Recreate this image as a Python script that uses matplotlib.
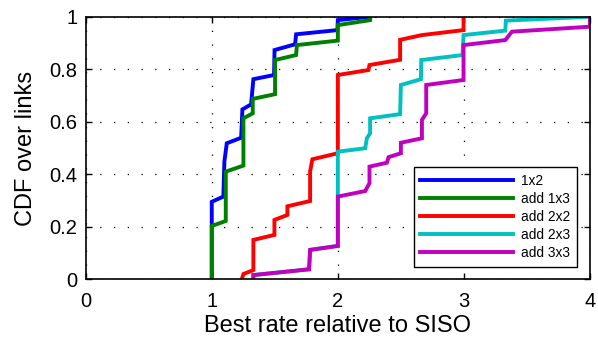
import matplotlib
matplotlib.use("Agg")
import matplotlib.pyplot as plt

plt.rcParams['font.family'] = ['Liberation Sans', 'DejaVu Sans']

# CDF curves (x = rate relative to SISO, y = CDF)
x_1x2 = [1.0, 1.0, 1.092, 1.10, 1.119, 1.233, 1.243, 1.312, 1.33, 1.494, 1.498,
         1.661, 1.669, 1.997, 2.0, 2.256]
y_1x2 = [0.0, 0.295, 0.315, 0.448, 0.518, 0.539, 0.647, 0.666, 0.762, 0.778, 0.873,
         0.895, 0.933, 0.949, 0.987, 1.0]

x_1x3 = [1.0, 1.0, 1.111, 1.111, 1.251, 1.251, 1.325, 1.325, 1.502, 1.502, 1.669,
         1.675, 2.0, 2.0, 2.256, 2.256]
y_1x3 = [0.0, 0.203, 0.222, 0.41, 0.433, 0.613, 0.632, 0.687, 0.705, 0.835, 0.854,
         0.892, 0.909, 0.968, 0.987, 1.0]

x_2x2 = [1.238, 1.251, 1.33, 1.33, 1.497, 1.497, 1.6, 1.6, 1.78, 1.78, 1.798, 2.0,
         2.0, 2.243, 2.251, 2.494, 2.494, 2.667, 2.997, 2.997]
y_2x2 = [0.0, 0.02, 0.035, 0.15, 0.169, 0.226, 0.245, 0.278, 0.298, 0.41, 0.457, 0.48,
         0.778, 0.797, 0.816, 0.836, 0.912, 0.93, 0.949, 1.0]

x_2x3 = [1.33, 1.33, 1.772, 1.78, 2.0, 2.0, 2.0, 2.217, 2.23, 2.256, 2.256, 2.494,
         2.5, 2.659, 2.662, 2.989, 2.997, 3.328, 3.333, 4.0]
y_2x3 = [0.0, 0.016, 0.038, 0.112, 0.127, 0.315, 0.486, 0.499, 0.537, 0.556, 0.613,
         0.629, 0.74, 0.762, 0.835, 0.854, 0.93, 0.947, 0.985, 1.0]

x_3x3 = [1.33, 1.33, 1.772, 1.78, 2.0, 2.0, 2.217, 2.251, 2.251, 2.389, 2.402, 2.5,
         2.5, 2.667, 2.667, 2.701, 2.701, 2.997, 2.997, 3.328, 3.381, 4.0, 4.0]
y_3x3 = [0.0, 0.016, 0.038, 0.112, 0.127, 0.315, 0.336, 0.366, 0.429, 0.444, 0.465,
         0.48, 0.52, 0.537, 0.607, 0.632, 0.74, 0.759, 0.892, 0.911, 0.943, 0.962, 1.0]

series = [
    (x_1x2, y_1x2, '1x2', '#0000ff'),
    (x_1x3, y_1x3, 'add 1x3', '#008000'),
    (x_2x2, y_2x2, 'add 2x2', '#ff0000'),
    (x_2x3, y_2x3, 'add 2x3', '#00c0c0'),
    (x_3x3, y_3x3, 'add 3x3', '#bf00bf'),
]

fig = plt.figure(figsize=(5.98, 3.41), dpi=100)
ax = fig.add_axes([0.1433, 0.181, 0.8433, 0.77])

for xs, ys, lab, col in series:
    ax.plot(xs, ys, color=col, lw=2.8, label=lab, solid_joinstyle='miter')

ax.set_xlim(0, 4)
ax.set_ylim(0, 1)
ax.set_xticks([0, 1, 2, 3, 4])
ax.set_yticks([0, 0.2, 0.4, 0.6, 0.8, 1])
ax.set_yticklabels(['0', '0.2', '0.4', '0.6', '0.8', '1'])
ax.tick_params(direction='in', top=True, right=True, length=4, width=1,
               labelsize=14.5)
ax.tick_params(axis='x', pad=9)
ax.tick_params(axis='y', pad=6)
ax.grid(True, color='black', linestyle=(0, (1, 10)), linewidth=0.9)
for s in ax.spines.values():
    s.set_linewidth(1.2)

ax.set_xlabel('Best rate relative to SISO', fontsize=17, labelpad=3)
ax.set_ylabel('CDF over links', fontsize=17, labelpad=9)

leg = ax.legend(loc='lower right', bbox_to_anchor=(0.974, 0.047), fontsize=9.9,
                handlelength=6.7, handletextpad=0.6, labelspacing=0.3,
                fancybox=False, framealpha=1, borderpad=0.5, borderaxespad=0)
leg.get_frame().set_edgecolor('black')
leg.get_frame().set_linewidth(1.0)

fig.savefig('out.png', dpi=100)
